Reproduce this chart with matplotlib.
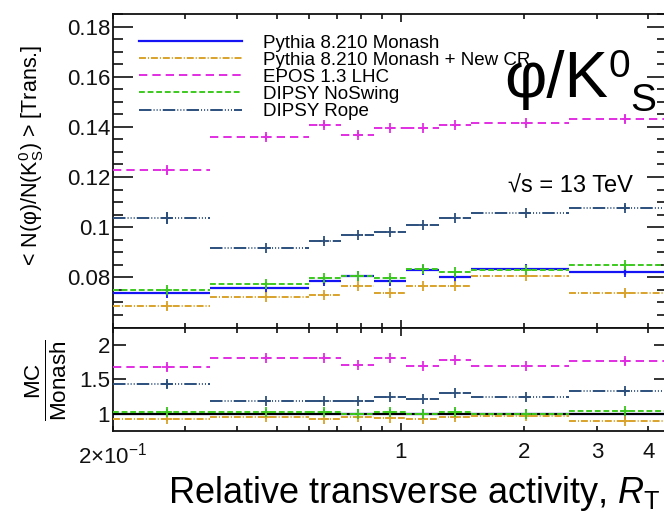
import matplotlib
matplotlib.use("Agg")
import matplotlib.pyplot as plt
from matplotlib.lines import Line2D
from matplotlib.ticker import FixedLocator, FixedFormatter, FuncFormatter, MultipleLocator, NullLocator

plt.rcParams['font.family'] = ['Liberation Sans', 'DejaVu Sans']
plt.rcParams['mathtext.fontset'] = 'custom'
plt.rcParams['mathtext.rm'] = 'Liberation Sans'
plt.rcParams['mathtext.it'] = 'Liberation Sans:italic'
plt.rcParams['mathtext.bf'] = 'Liberation Sans:bold'
plt.rcParams['lines.scale_dashes'] = False

# R_T binning (edges) and mean R_T per bin
rt_edges = [0.2, 0.344, 0.598, 0.717, 0.864, 1.032, 1.24, 1.486, 2.566, 4.43]
rt_mean = [0.271, 0.471, 0.653, 0.787, 0.940, 1.133, 1.354, 2.023, 3.513]

# <N(phi)/N(K0S)> in the transverse region
monash = [0.0738, 0.0758, 0.0785, 0.0806, 0.0785, 0.0830, 0.0800, 0.0833, 0.0821]
monash_err = [0.0010, 0.0004, 0.0012, 0.0004, 0.0005, 0.0003, 0.0003, 0.0003, 0.0013]
newcr = [0.0686, 0.0722, 0.0730, 0.0764, 0.0738, 0.0764, 0.0764, 0.0806, 0.0738]
newcr_err = [0.0015, 0.0006, 0.0007, 0.0008, 0.0005, 0.0004, 0.0004, 0.0006, 0.0018]
epos = [0.1226, 0.1358, 0.1407, 0.1368, 0.1394, 0.1394, 0.1407, 0.1414, 0.1430]
epos_err = [0.0017, 0.0012, 0.0011, 0.0010, 0.0006, 0.0005, 0.0006, 0.0005, 0.0016]
noswing = [0.0750, 0.0772, 0.0798, 0.0804, 0.0798, 0.0833, 0.0820, 0.0830, 0.0850]
noswing_err = [0.0013, 0.0008, 0.0008, 0.0008, 0.0004, 0.0004, 0.0006, 0.0005, 0.0015]
rope = [0.1038, 0.0916, 0.0945, 0.0968, 0.0982, 0.1008, 0.1035, 0.1057, 0.1077]
rope_err = [0.0024, 0.0004, 0.0008, 0.0004, 0.0003, 0.0003, 0.0003, 0.0002, 0.0010]

# MC / Monash
monash_ratio = [1.0, 1.0, 1.0, 1.0, 1.0, 1.0, 1.0, 1.0, 1.0]
monash_ratio_err = [0.0, 0.0, 0.0, 0.0, 0.0, 0.0, 0.0, 0.0, 0.0]
newcr_ratio = [0.93, 0.95, 0.93, 0.95, 0.94, 0.92, 0.955, 0.97, 0.90]
newcr_ratio_err = [0.03, 0.02, 0.02, 0.02, 0.01, 0.01, 0.01, 0.01, 0.03]
epos_ratio = [1.676, 1.805, 1.805, 1.70, 1.805, 1.695, 1.78, 1.695, 1.762]
epos_ratio_err = [0.05, 0.03, 0.03, 0.02, 0.015, 0.015, 0.015, 0.01, 0.05]
noswing_ratio = [1.02, 1.02, 1.02, 1.0, 1.02, 1.0, 1.025, 0.995, 1.035]
noswing_ratio_err = [0.03, 0.015, 0.015, 0.015, 0.01, 0.01, 0.01, 0.01, 0.03]
rope_ratio = [1.424, 1.19, 1.19, 1.19, 1.248, 1.214, 1.295, 1.248, 1.329]
rope_ratio_err = [0.045, 0.01, 0.015, 0.01, 0.01, 0.01, 0.01, 0.005, 0.025]

labels = ["Pythia 8.210 Monash", "Pythia 8.210 Monash + New CR", "EPOS 1.3 LHC",
          "DIPSY NoSwing", "DIPSY Rope"]
colors = ["#1414f5", "#d9a22c", "#e22ee2", "#3cc81e", "#2c4f7c"]
styles = ["solid",
          (0, (5.0, 1.4, 0.8, 1.4)),
          (0, (6.0, 3.6)),
          (0, (4.2, 2.0)),
          (0, (9.0, 1.5, 0.7, 1.5, 0.7, 1.5, 0.7, 1.5))]
widths = [1.6, 1.4, 1.4, 1.4, 1.4]

main_series = [(monash, monash_err), (newcr, newcr_err), (epos, epos_err),
               (noswing, noswing_err), (rope, rope_err)]
ratio_series = [(monash_ratio, monash_ratio_err), (newcr_ratio, newcr_ratio_err),
                (epos_ratio, epos_ratio_err), (noswing_ratio, noswing_ratio_err),
                (rope_ratio, rope_ratio_err)]

W, H = 664, 515
fig = plt.figure(figsize=(W / 100, H / 100), dpi=100)


def fx(px):
    return px / W


def fy(py):
    return 1 - py / H


ax = fig.add_axes([fx(113), fy(327.5), 553.5 / W, 313.5 / H])
rax = fig.add_axes([fx(113), fy(431), 553.5 / W, 103.5 / H])


def draw_hist(a, vals, errs, color, ls, lw, z):
    lo = rt_edges[:-1]
    hi = rt_edges[1:]
    a.hlines(vals, lo, hi, colors=color, linestyles=[ls], linewidths=lw, zorder=z)
    ylo = [v - e for v, e in zip(vals, errs)]
    yhi = [v + e for v, e in zip(vals, errs)]
    a.vlines(rt_mean, ylo, yhi, colors=color, linestyles=[ls], linewidths=lw, zorder=z)
    a.plot(rt_mean, vals, linestyle='none', marker='+', markersize=7,
           markeredgewidth=1.3, color=color, zorder=z)


for i, ((v, e), c, ls, lw) in enumerate(zip(main_series, colors, styles, widths)):
    draw_hist(ax, v, e, c, ls, lw, 3 + i * 0.1)

for i, ((v, e), c, ls, lw) in enumerate(zip(ratio_series, colors, styles, widths)):
    draw_hist(rax, v, e, c, ls, lw, 3 + i * 0.1)
rax.axhline(1.0, color='black', lw=1.5, zorder=3.05)

for a in (ax, rax):
    a.set_xscale('log')
    a.set_xlim(rt_edges[0], rt_edges[-1])
    a.xaxis.set_major_locator(FixedLocator([1.0]))
    a.xaxis.set_minor_locator(FixedLocator([0.2, 0.3, 0.4, 0.5, 0.6, 0.7, 0.8, 0.9, 2, 3, 4]))
    for s in a.spines.values():
        s.set_linewidth(1.3)
        s.set_color('#111111')
    a.tick_params(axis='both', which='both', direction='in', top=True, right=True,
                  colors='#111111', width=1.2, labelcolor='#111111')
    a.tick_params(axis='x', which='major', length=6)
    a.tick_params(axis='x', which='minor', length=3.6)

ax.set_ylim(0.06, 0.185)
ax.yaxis.set_major_locator(FixedLocator([0.08, 0.10, 0.12, 0.14, 0.16, 0.18]))
ax.yaxis.set_minor_locator(MultipleLocator(0.005))
ax.yaxis.set_major_formatter(FuncFormatter(lambda v, p: f"{round(v, 3):g}"))
ax.tick_params(axis='y', which='major', length=14.4, labelsize=16, pad=2)
ax.tick_params(axis='y', which='minor', length=7.2)
ax.tick_params(axis='x', which='both', labelbottom=False)

rax.set_ylim(0.75, 2.25)
rax.yaxis.set_major_locator(FixedLocator([1.0, 1.5, 2.0]))
rax.yaxis.set_minor_locator(NullLocator())
rax.yaxis.set_major_formatter(FuncFormatter(lambda v, p: f"{v:g}"))
rax.tick_params(axis='y', which='major', length=9.4, labelsize=16, pad=2)
rax.xaxis.set_major_formatter(FixedFormatter(["1"]))
rax.xaxis.set_minor_formatter(FixedFormatter(
    ["2\u00d710$^{-1}$", "", "", "", "", "", "", "", "2", "3", "4"]))
rax.tick_params(axis='x', which='both', labelsize=16, pad=8)

# legend
handles = [Line2D([], [], color=c, linestyle=ls, linewidth=lw)
           for c, ls, lw in zip(colors, styles, widths)]
ax.legend(handles, labels, loc='upper left', bbox_to_anchor=(fx(139), fy(34.5)),
          bbox_transform=fig.transFigure, frameon=False, fontsize=13.5,
          handlelength=5.5, handletextpad=1.1, labelspacing=0.0,
          borderpad=0, borderaxespad=0)

# annotations
fig.text(fx(504), fy(97), "\u03c6/K", fontsize=47, ha='left', va='baseline')
fig.text(fx(608), fy(77), "0", fontsize=28, ha='left', va='baseline')
fig.text(fx(630), fy(111), "S", fontsize=28, ha='left', va='baseline')
fig.text(fx(508), fy(193), "\u221as = 13 TeV", fontsize=17, ha='left', va='baseline')

fig.text(fx(168), fy(503), "Relative transverse activity, $R_{\\mathrm{T}}$",
         fontsize=26, ha='left', va='baseline')
fig.text(fx(32), fy(155), "< N(\u03c6)/N(K$^{0}_{\\mathrm{S}}$) > [Trans.]",
         fontsize=15.5, rotation=90, ha='center', va='center')
fig.text(fx(46), fy(380), "$\\frac{\\mathrm{MC}}{\\mathrm{Monash}}$",
         fontsize=23, rotation=90, ha='center', va='center')

fig.savefig("out.png", dpi=100)
